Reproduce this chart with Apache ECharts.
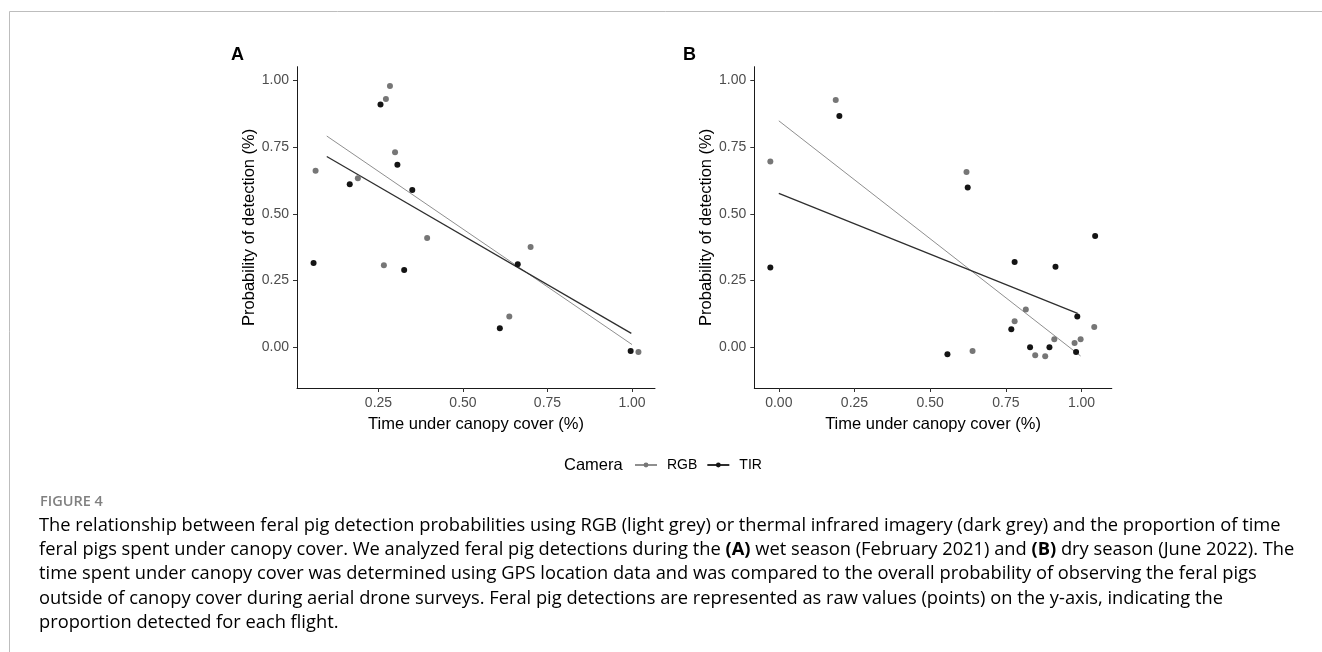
<!DOCTYPE html>
<html>
<head>
<meta charset="utf-8">
<script src="https://cdn.jsdelivr.net/npm/echarts@6/dist/echarts.min.js"></script>
<style>
html,body{margin:0;padding:0;background:#fff;}
#c{width:1322px;height:652px;}
</style>
</head>
<body>
<div id="c"></div>
<script>
// ---- data ----
const seriesNames = ['RGB', 'TIR'];
const xTicksA = [0.25, 0.50, 0.75, 1.00];
const xTicksB = [0.00, 0.25, 0.50, 0.75, 1.00];
const yTicks = [0.00, 0.25, 0.50, 0.75, 1.00];

// Panel A (wet season)
const rgbA_x = [0.064, 0.189, 0.272, 0.284, 0.299, 0.266, 0.394, 0.700, 0.637, 1.019];
const rgbA_y = [0.662, 0.634, 0.931, 0.980, 0.731, 0.307, 0.410, 0.376, 0.115, -0.018];
const tirA_x = [0.058, 0.165, 0.256, 0.306, 0.350, 0.326, 0.662, 0.609, 0.996];
const tirA_y = [0.316, 0.611, 0.910, 0.684, 0.590, 0.290, 0.311, 0.071, -0.014];
const rgbFitA_x = [0.097, 1.000];
const rgbFitA_y = [0.792, 0.010];
const tirFitA_x = [0.097, 0.998];
const tirFitA_y = [0.715, 0.052];

// Panel B (dry season)
const rgbB_x = [-0.028, 0.188, 0.620, 0.640, 0.779, 0.816, 0.847, 0.880, 0.910, 0.977, 0.997, 1.042];
const rgbB_y = [0.696, 0.927, 0.657, -0.014, 0.097, 0.141, -0.030, -0.034, 0.030, 0.016, 0.030, 0.076];
const tirB_x = [-0.028, 0.200, 0.624, 0.557, 0.768, 0.779, 0.830, 0.894, 0.914, 0.986, 0.982, 1.045];
const tirB_y = [0.299, 0.867, 0.599, -0.026, 0.067, 0.320, 0.000, 0.000, 0.302, 0.115, -0.018, 0.417];
const rgbFitB_x = [0.000, 0.997];
const rgbFitB_y = [0.849, -0.033];
const tirFitB_x = [0.000, 0.987];
const tirFitB_y = [0.577, 0.127];

const captionLines = [
  [{t:'The relationship between feral pig detection probabilities using RGB (light grey) or thermal infrared imagery (dark grey) and the proportion of time'}],
  [{t:'feral pigs spent under canopy cover. We analyzed feral pig detections during the '},{t:'(A)',b:1},{t:' wet season (February 2021) and '},{t:'(B)',b:1},{t:' dry season (June 2022). The'}],
  [{t:'time spent under canopy cover was determined using GPS location data and was compared to the overall probability of observing the feral pigs'}],
  [{t:'outside of canopy cover during aerial drone surveys. Feral pig detections are represented as raw values (points) on the y-axis, indicating the'}],
  [{t:'proportion detected for each flight.'}]
];

// ---- helpers ----
const zip = (xs, ys) => xs.map((x, i) => [x, ys[i]]);
const FONT = '"Liberation Sans", Arial, sans-serif';
const CAPFONT = '"Open Sans", sans-serif';
const CAPCOL = '#808080';
const RGB_PT = '#767676', TIR_PT = '#141414';
const RGB_LN = '#8f8f8f', TIR_LN = '#2e2e2e';

function xAxis(idx, min, max, ticks) {
  return {
    type: 'value', gridIndex: idx, min: min, max: max,
    name: 'Time under canopy cover (%)', nameLocation: 'middle', nameGap: 28,
    nameTextStyle: {fontFamily: FONT, fontSize: 16.5, color: '#000'},
    axisLine: {show: true, onZero: false, lineStyle: {color: '#1a1a1a', width: 1}},
    axisTick: {show: true, length: 4, customValues: ticks, lineStyle: {color: '#333'}},
    axisLabel: {show: true, margin: 8, customValues: ticks, fontFamily: FONT, fontSize: 14, color: '#4d4d4d',
      formatter: v => Number(v).toFixed(2)},
    splitLine: {show: false}
  };
}
function yAxis(idx) {
  return {
    type: 'value', gridIndex: idx, min: -0.153, max: 1.052,
    name: 'Probability of detection (%)', nameLocation: 'middle', nameGap: 39,
    nameTextStyle: {fontFamily: FONT, fontSize: 16.5, color: '#000'},
    axisLine: {show: true, onZero: false, lineStyle: {color: '#1a1a1a', width: 1}},
    axisTick: {show: true, length: 4, customValues: yTicks, lineStyle: {color: '#333'}},
    axisLabel: {show: true, margin: 8, customValues: yTicks, fontFamily: FONT, fontSize: 14, color: '#4d4d4d',
      formatter: v => Number(v).toFixed(2)},
    splitLine: {show: false}
  };
}
function fit(name, idx, xs, ys, color, w) {
  return {
    name: name, type: 'line', xAxisIndex: idx, yAxisIndex: idx,
    data: zip(xs, ys), showSymbol: false, symbol: 'circle', symbolSize: 5,
    itemStyle: {color: name === 'RGB' ? RGB_PT : TIR_PT},
    lineStyle: {color: color, width: w}, silent: true, z: 3
  };
}
function pts(name, idx, xs, ys, color) {
  return {
    name: name, type: 'scatter', xAxisIndex: idx, yAxisIndex: idx,
    data: zip(xs, ys), symbol: 'circle', symbolSize: 6,
    itemStyle: {color: color, opacity: 1}, z: 4
  };
}

const graphics = [
  {type: 'line', shape: {x1: 9.5, y1: 11.5, x2: 1322, y2: 11.5}, style: {stroke: '#bdbdbd', lineWidth: 1}},
  {type: 'line', shape: {x1: 9.5, y1: 11.5, x2: 9.5, y2: 652}, style: {stroke: '#bdbdbd', lineWidth: 1}},
  {type: 'text', left: 231, top: 46, style: {text: 'A', font: 'bold 18px ' + FONT, fill: '#000'}},
  {type: 'text', left: 683, top: 46, style: {text: 'B', font: 'bold 18px ' + FONT, fill: '#000'}},
  {type: 'text', left: 564, top: 457, style: {text: 'Camera', font: '16.5px ' + FONT, fill: '#000'}},
  {type: 'text', left: 40, top: 494, style: {text: 'FIGURE 4', font: '600 14.5px ' + CAPFONT, fill: CAPCOL}}
];
captionLines.forEach((parts, i) => {
  let txt = parts.map(p => p.b ? '{b|' + p.t + '}' : '{n|' + p.t + '}').join('');
  graphics.push({
    type: 'text', left: 39, top: 517 + i * 24.1,
    style: {
      text: txt,
      rich: {
        n: {fontFamily: CAPFONT, fontSize: 18.3, color: CAPCOL, fontWeight: 'normal'},
        b: {fontFamily: CAPFONT, fontSize: 18.3, color: CAPCOL, fontWeight: 'bold'}
      }
    }
  });
});

const chart = echarts.init(document.getElementById('c'), null, {renderer: 'canvas'});
chart.setOption({
  animation: false,
  backgroundColor: '#fff',
  grid: [
    {left: 297, top: 66.7, width: 358, height: 321.3, containLabel: false},
    {left: 754.3, top: 66.7, width: 357.5, height: 321.3, containLabel: false}
  ],
  xAxis: [xAxis(0, 0.009, 1.068, xTicksA), xAxis(1, -0.081, 1.100, xTicksB)],
  yAxis: [yAxis(0), yAxis(1)],
  legend: {
    data: seriesNames, left: 634, top: 458, orient: 'horizontal', padding: 0,
    itemWidth: 22, itemHeight: 6, itemGap: 9,
    textStyle: {fontFamily: FONT, fontSize: 14, color: '#000', padding: [0, 0, 0, 5]},
    selectedMode: false
  },
  series: [
    fit('RGB', 0, rgbFitA_x, rgbFitA_y, RGB_LN, 1),
    fit('TIR', 0, tirFitA_x, tirFitA_y, TIR_LN, 1.3),
    fit('RGB', 1, rgbFitB_x, rgbFitB_y, RGB_LN, 1),
    fit('TIR', 1, tirFitB_x, tirFitB_y, TIR_LN, 1.3),
    pts('RGB', 0, rgbA_x, rgbA_y, RGB_PT),
    pts('TIR', 0, tirA_x, tirA_y, TIR_PT),
    pts('RGB', 1, rgbB_x, rgbB_y, RGB_PT),
    pts('TIR', 1, tirB_x, tirB_y, TIR_PT)
  ],
  graphic: graphics
});
</script>
</body>
</html>
